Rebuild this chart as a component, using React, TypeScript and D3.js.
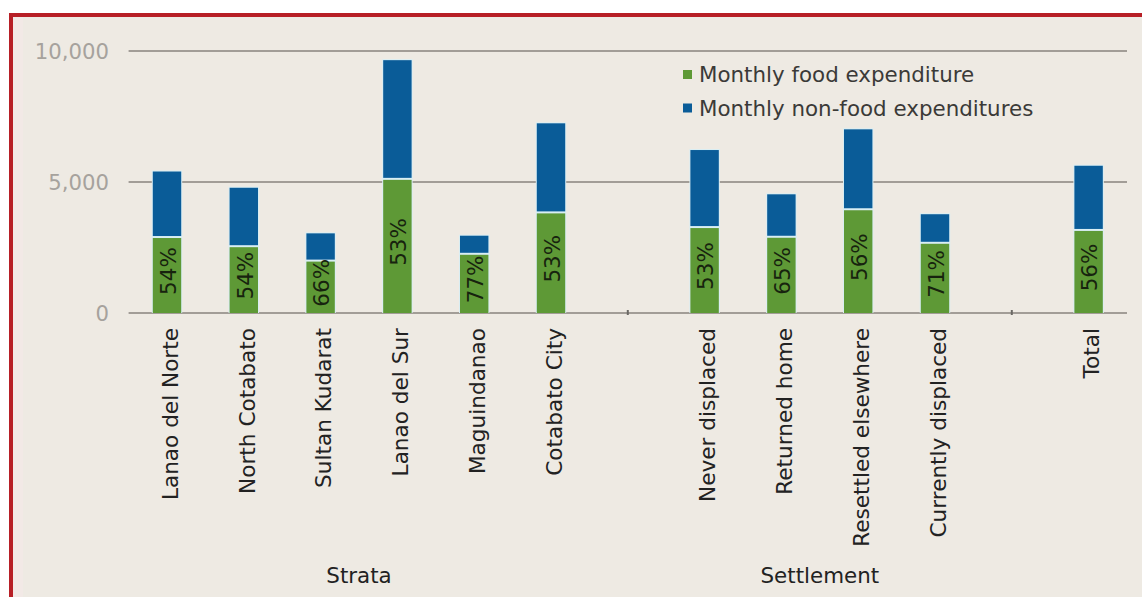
import React from "react";
import * as d3 from "d3";

const strataCategories = ["Lanao del Norte", "North Cotabato", "Sultan Kudarat", "Lanao del Sur", "Maguindanao", "Cotabato City"];
const settlementCategories = ["Never displaced", "Returned home", "Resettled elsewhere", "Currently displaced"];
const totalCategories = ["Total"];
const categories = [...strataCategories, ...settlementCategories, ...totalCategories];

const foodValues = [2900, 2550, 2000, 5120, 2260, 3840, 3280, 2910, 3960, 2680, 3170];
const nonFoodValues = [2500, 2230, 1040, 4530, 690, 3400, 2940, 1620, 3050, 1090, 2450];
const foodShareLabels = ["54%", "54%", "66%", "53%", "77%", "53%", "53%", "65%", "56%", "71%", "56%"];

const yTicks = [0, 5000, 10000];
const groupTitles = ["Strata", "Settlement"];
const legendLabels = ["Monthly food expenditure", "Monthly non-food expenditures"];

const GAP1 = "__gap1";
const GAP2 = "__gap2";
const slotDomain = [...strataCategories, GAP1, ...settlementCategories, GAP2, ...totalCategories];

const W = 1142;
const H = 597;
const FONT = "'DejaVu Sans', Verdana, sans-serif";
const GREEN = "#5e9936";
const BLUE = "#0a5c98";
const HALO = "#d9eef4";

export default function App() {
  const x = d3.scaleBand<string>().domain(slotDomain).range([128.6, 1127]).padding(0);
  const y = d3.scaleLinear().domain([0, 10000]).range([313, 51]);
  const bw = x.bandwidth() * 0.37;
  const fmt = d3.format(",");

  const stack = categories.map((c, i) => ({
    cat: c,
    food: foodValues[i],
    nonFood: nonFoodValues[i],
    label: foodShareLabels[i],
  }));

  const cx = (c: string) => (x(c) as number) + x.bandwidth() / 2;
  const groupCenter = (cats: string[]) => (cx(cats[0]) + cx(cats[cats.length - 1])) / 2;

  return (
    <svg width={W} height={H} style={{ position: "absolute", left: 0, top: 0 }} fontFamily={FONT}>
      <rect x={0} y={0} width={W} height={H} fill="#ffffff" />
      <rect x={9} y={13} width={W - 9} height={H - 13} fill="#eeeae3" />
      <rect x={13} y={17} width={10} height={H - 17} fill="#f2e9e6" />
      <rect x={9} y={13} width={W - 9} height={4} fill="#b71f26" />
      <rect x={9} y={13} width={4} height={H - 13} fill="#b71f26" />

      {yTicks.map((t) => (
        <g key={t}>
          <line x1={128.6} x2={1127} y1={y(t)} y2={y(t)} stroke="#a29d97" strokeWidth={2} />
          <text x={109} y={y(t)} dy="0.36em" textAnchor="end" fontSize={21.2} fill="#a6a29d">
            {fmt(t)}
          </text>
        </g>
      ))}

      {[GAP1, GAP2].map((g) => (
        <line key={g} x1={cx(g)} x2={cx(g)} y1={310} y2={315} stroke="#6b6965" strokeWidth={2} />
      ))}

      {stack.map((d) => {
        const c = cx(d.cat);
        const y0 = y(0);
        const y1 = y(d.food);
        const y2 = y(d.food + d.nonFood);
        return (
          <g key={d.cat}>
            <rect x={c - bw / 2 - 1} y={y2 - 1} width={bw + 2} height={y0 - y2 + 1} fill={HALO} />
            <rect x={c - bw / 2} y={y2} width={bw} height={y1 - y2 - 1} fill={BLUE} />
            <rect x={c - bw / 2} y={y1 + 1} width={bw} height={y0 - y1 - 1} fill={GREEN} />
            <text
              transform={`translate(${c + 1},${(y0 + y1) / 2 - 4}) rotate(-90)`}
              textAnchor="middle"
              dy="0.36em"
              fontSize={21.5}
              fill="#17230e"
            >
              {d.label}
            </text>
            <text
              transform={`translate(${c + 3},328) rotate(-90)`}
              textAnchor="end"
              dy="0.36em"
              fontSize={21.6}
              fill="#222222"
            >
              {d.cat}
            </text>
          </g>
        );
      })}

      <text x={groupCenter(strataCategories)} y={583} textAnchor="middle" fontSize={21.4} fill="#222222">
        {groupTitles[0]}
      </text>
      <text x={groupCenter(settlementCategories)} y={583} textAnchor="middle" fontSize={21.4} fill="#222222">
        {groupTitles[1]}
      </text>

      {legendLabels.map((l, i) => (
        <g key={l} transform={`translate(683,${70 + i * 33.5})`}>
          <rect x={0} y={0} width={9} height={9} fill={i === 0 ? GREEN : BLUE} />
          <text x={16} y={12} fontSize={21.4} fill="#3b3a38">
            {l}
          </text>
        </g>
      ))}
    </svg>
  );
}
